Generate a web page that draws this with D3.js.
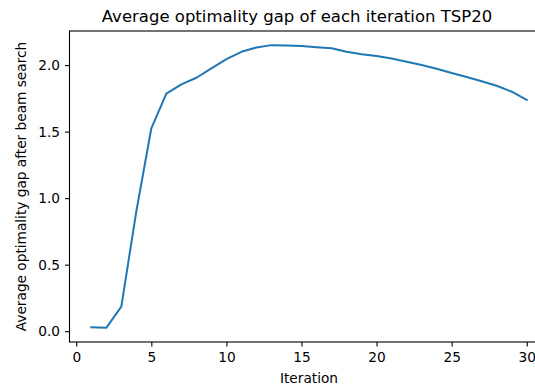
<!DOCTYPE html>
<html><head><meta charset="utf-8">
<script src="https://cdn.jsdelivr.net/npm/d3@7"></script>
<style>body{margin:0;background:#fff}svg{display:block}text{font-family:"DejaVu Sans",sans-serif;fill:#000}</style>
</head><body><svg id="c" width="535" height="387"></svg>
<script>
const iterations = d3.range(1, 31);
const gapValues = [0.030, 0.025, 0.185, 0.900, 1.525, 1.785, 1.855, 1.905, 1.975, 2.045,
  2.100, 2.132, 2.150, 2.147, 2.143, 2.135, 2.127, 2.100, 2.082, 2.068,
  2.050, 2.025, 2.000, 1.972, 1.940, 1.910, 1.878, 1.845, 1.800, 1.738];
const xTicks = [0, 5, 10, 15, 20, 25, 30];
const yTicks = [0.0, 0.5, 1.0, 1.5, 2.0];
const titleText = "Average optimality gap of each iteration TSP20";
const xLabel = "Iteration";
const yLabel = "Average optimality gap after beam search";

(function () {
const svg = d3.select("#c");
const mL = 69.5, mR = 548.5, mT = 31, mB = 342;
const xmin = 1, xmax = 30, xm = (xmax - xmin) * 0.05;
const ymin = d3.min(gapValues), ymax = d3.max(gapValues), ym = (ymax - ymin) * 0.05;
const x = d3.scaleLinear().domain([xmin - xm, xmax + xm]).range([mL, mR]);
const y = d3.scaleLinear().domain([ymin - ym, ymax + ym]).range([mB, mT]);

const data = iterations.map((d, i) => ({x: d, y: gapValues[i]}));
svg.append("path").datum(data)
  .attr("fill", "none").attr("stroke", "#1f77b4").attr("stroke-width", 2)
  .attr("stroke-linejoin", "round").attr("stroke-linecap", "square")
  .attr("d", d3.line().x(d => x(d.x)).y(d => y(d.y)));

const xAxis = svg.append("g").attr("transform", `translate(0,${mB})`)
  .call(d3.axisBottom(x).tickValues(xTicks).tickFormat(d3.format("d")).tickSize(4.5).tickPadding(6));
const yAxis = svg.append("g").attr("transform", `translate(${mL},0)`)
  .call(d3.axisLeft(y).tickValues(yTicks).tickFormat(d3.format(".1f")).tickSize(4.5).tickPadding(5));
[xAxis, yAxis].forEach(g => {
  g.select(".domain").remove();
  g.selectAll("line").attr("stroke", "#000").attr("stroke-width", 1.1);
  g.selectAll("text").attr("font-size", "13.7px").attr("font-family", "DejaVu Sans").attr("fill", "#000");
});

svg.append("rect").attr("x", mL).attr("y", mT).attr("width", mR - mL).attr("height", mB - mT)
  .attr("fill", "none").attr("stroke", "#000").attr("stroke-width", 1.1);

svg.append("text").attr("x", 297).attr("y", 21.5).attr("text-anchor", "middle")
  .attr("font-size", "16.5px").text(titleText);
svg.append("text").attr("x", (mL + mR) / 2).attr("y", 383).attr("text-anchor", "middle")
  .attr("font-size", "13.7px").text(xLabel);
svg.append("text").attr("transform", `translate(25.5,${(mT + mB) / 2}) rotate(-90)`)
  .attr("text-anchor", "middle").attr("font-size", "13.7px").text(yLabel);
})();
</script></body></html>
